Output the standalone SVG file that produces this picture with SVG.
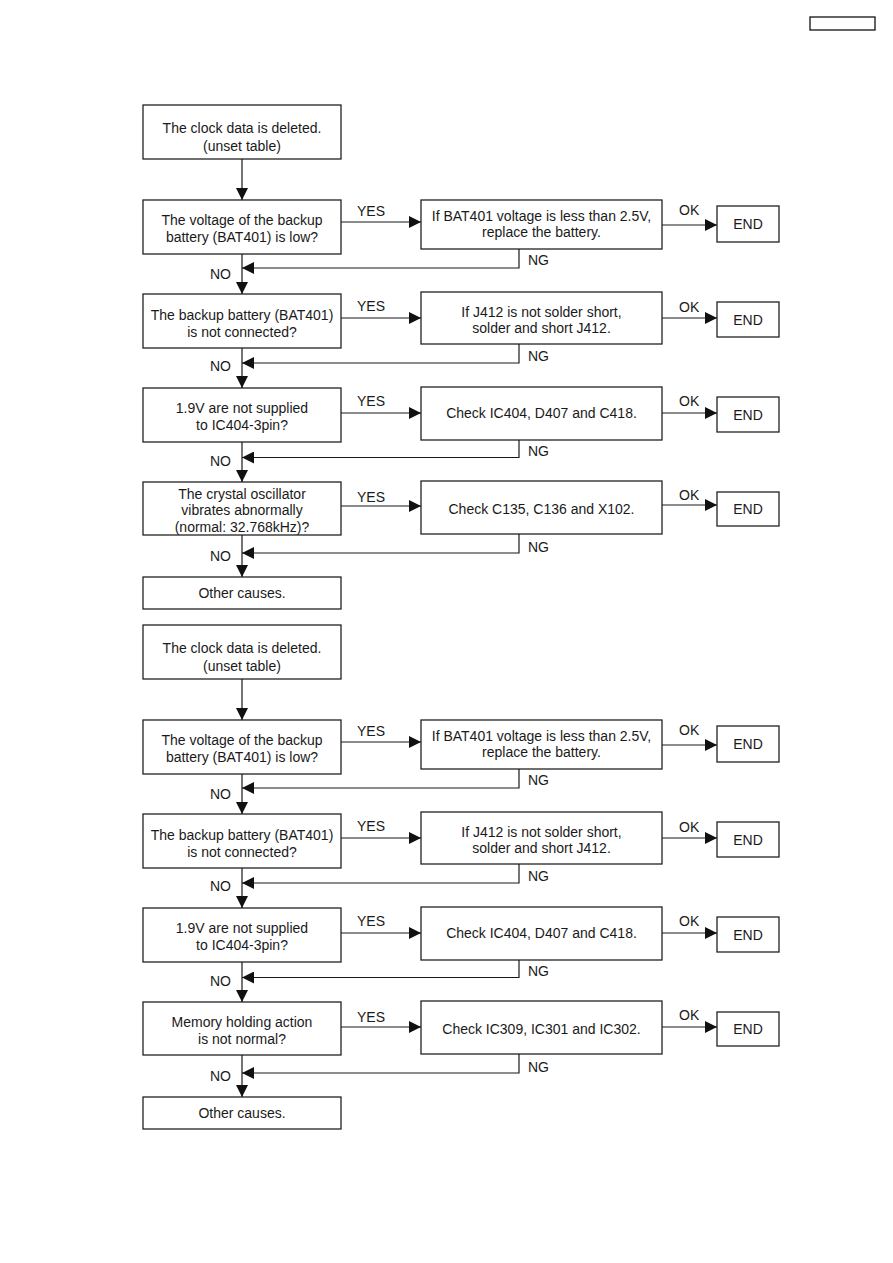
<svg xmlns="http://www.w3.org/2000/svg" width="893" height="1263" viewBox="0 0 893 1263">
<style>
.box{fill:#fff;stroke:#222;stroke-width:1.3}
.t{font-family:"Liberation Sans",Arial,Helvetica,sans-serif;font-size:14px;fill:#1a1a1a;text-anchor:middle}
.l{font-family:"Liberation Sans",Arial,Helvetica,sans-serif;font-size:14px;fill:#1a1a1a}
.ln{stroke:#1a1a1a;stroke-width:1.2;fill:none}
.ar{marker-end:url(#ah)}
</style>
<defs>
<marker id="ah" markerUnits="userSpaceOnUse" markerWidth="12" markerHeight="12" refX="12" refY="6" orient="auto">
<path d="M0,0 L12,6 L0,12 z" fill="#111"/>
</marker>
</defs>
<rect width="893" height="1263" fill="#fff"/>
<g id="pageref"><rect x="810" y="17" width="65" height="13" fill="#fff" stroke="#111" stroke-width="1.3"/></g>

<g id="flow1">
<g id="f1-start"><rect class="box" x="143" y="105" width="198" height="54"/><text class="t" x="242" y="133">The clock data is deleted.</text><text class="t" x="242" y="151">(unset table)</text></g>
<g id="f1-q1"><rect class="box" x="143" y="200" width="198" height="54"/><text class="t" x="242" y="225">The voltage of the backup</text><text class="t" x="242" y="242">battery (BAT401) is low?</text></g>
<g id="f1-a1"><rect class="box" x="421" y="200" width="241" height="49"/><text class="t" x="541.5" y="221">If BAT401 voltage is less than 2.5V,</text><text class="t" x="541.5" y="237">replace the battery.</text></g>
<g id="f1-end1"><rect class="box" x="717" y="206" width="62" height="36"/><text class="t" x="748" y="229">END</text></g>
<g id="f1-q2"><rect class="box" x="143" y="294" width="198" height="54"/><text class="t" x="242" y="320">The backup battery (BAT401)</text><text class="t" x="242" y="337">is not connected?</text></g>
<g id="f1-a2"><rect class="box" x="421" y="292" width="241" height="52"/><text class="t" x="541.5" y="317">If J412 is not solder short,</text><text class="t" x="541.5" y="333">solder and short J412.</text></g>
<g id="f1-end2"><rect class="box" x="717" y="302" width="62" height="35"/><text class="t" x="748" y="325">END</text></g>
<g id="f1-q3"><rect class="box" x="143" y="388" width="198" height="54"/><text class="t" x="242" y="413">1.9V are not supplied</text><text class="t" x="242" y="429.5">to IC404-3pin?</text></g>
<g id="f1-a3"><rect class="box" x="421" y="387" width="241" height="53"/><text class="t" x="541.5" y="418">Check IC404, D407 and C418.</text></g>
<g id="f1-end3"><rect class="box" x="717" y="397" width="62" height="35"/><text class="t" x="748" y="420">END</text></g>
<g id="f1-q4"><rect class="box" x="143" y="482" width="198" height="53"/><text class="t" x="242" y="498.5">The crystal oscillator</text><text class="t" x="242" y="515">vibrates abnormally</text><text class="t" x="242" y="531.5">(normal: 32.768kHz)?</text></g>
<g id="f1-a4"><rect class="box" x="421" y="481" width="241" height="53"/><text class="t" x="541.5" y="514">Check C135, C136 and X102.</text></g>
<g id="f1-end4"><rect class="box" x="717" y="492" width="62" height="34"/><text class="t" x="748" y="514">END</text></g>
<g id="f1-other"><rect class="box" x="143" y="577" width="198" height="32"/><text class="t" x="242" y="598">Other causes.</text></g>
<g id="f1-connectors">
<path class="ln ar" d="M242,159 V200"/>
<path class="ln ar" d="M242,254 V294"/>
<path class="ln ar" d="M242,348 V388"/>
<path class="ln ar" d="M242,442 V482"/>
<path class="ln ar" d="M242,535 V577"/>
<path class="ln ar" d="M341,222 H421"/>
<path class="ln ar" d="M341,318 H421"/>
<path class="ln ar" d="M341,413 H421"/>
<path class="ln ar" d="M341,506 H421"/>
<path class="ln ar" d="M662,225 H717"/>
<path class="ln ar" d="M662,318 H717"/>
<path class="ln ar" d="M662,413 H717"/>
<path class="ln ar" d="M662,505 H717"/>
<path class="ln ar" d="M519,249 V268 H242"/>
<path class="ln ar" d="M519,344 V363 H242"/>
<path class="ln ar" d="M519,440 V457.5 H242"/>
<path class="ln ar" d="M519,534 V553 H242"/>
<text class="l" x="357" y="216">YES</text><text class="l" x="357" y="311">YES</text><text class="l" x="357" y="406">YES</text><text class="l" x="357" y="502">YES</text>
<text class="l" x="210" y="279">NO</text><text class="l" x="210" y="371">NO</text><text class="l" x="210" y="466">NO</text><text class="l" x="210" y="561">NO</text>
<text class="l" x="679" y="215">OK</text><text class="l" x="679" y="312">OK</text><text class="l" x="679" y="406">OK</text><text class="l" x="679" y="500">OK</text>
<text class="l" x="528" y="265">NG</text><text class="l" x="528" y="361">NG</text><text class="l" x="528" y="456">NG</text><text class="l" x="528" y="552">NG</text>
</g>
</g>

<g id="flow2" transform="translate(0,520)">
<g id="f2-start"><rect class="box" x="143" y="105" width="198" height="54"/><text class="t" x="242" y="133">The clock data is deleted.</text><text class="t" x="242" y="151">(unset table)</text></g>
<g id="f2-q1"><rect class="box" x="143" y="200" width="198" height="54"/><text class="t" x="242" y="225">The voltage of the backup</text><text class="t" x="242" y="242">battery (BAT401) is low?</text></g>
<g id="f2-a1"><rect class="box" x="421" y="200" width="241" height="49"/><text class="t" x="541.5" y="221">If BAT401 voltage is less than 2.5V,</text><text class="t" x="541.5" y="237">replace the battery.</text></g>
<g id="f2-end1"><rect class="box" x="717" y="206" width="62" height="36"/><text class="t" x="748" y="229">END</text></g>
<g id="f2-q2"><rect class="box" x="143" y="294" width="198" height="54"/><text class="t" x="242" y="320">The backup battery (BAT401)</text><text class="t" x="242" y="337">is not connected?</text></g>
<g id="f2-a2"><rect class="box" x="421" y="292" width="241" height="52"/><text class="t" x="541.5" y="317">If J412 is not solder short,</text><text class="t" x="541.5" y="333">solder and short J412.</text></g>
<g id="f2-end2"><rect class="box" x="717" y="302" width="62" height="35"/><text class="t" x="748" y="325">END</text></g>
<g id="f2-q3"><rect class="box" x="143" y="388" width="198" height="54"/><text class="t" x="242" y="413">1.9V are not supplied</text><text class="t" x="242" y="429.5">to IC404-3pin?</text></g>
<g id="f2-a3"><rect class="box" x="421" y="387" width="241" height="53"/><text class="t" x="541.5" y="418">Check IC404, D407 and C418.</text></g>
<g id="f2-end3"><rect class="box" x="717" y="397" width="62" height="35"/><text class="t" x="748" y="420">END</text></g>
<g id="f2-q4"><rect class="box" x="143" y="482" width="198" height="53"/><text class="t" x="242" y="507">Memory holding action</text><text class="t" x="242" y="523.5">is not normal?</text></g>
<g id="f2-a4"><rect class="box" x="421" y="481" width="241" height="53"/><text class="t" x="541.5" y="513.5">Check IC309, IC301 and IC302.</text></g>
<g id="f2-end4"><rect class="box" x="717" y="492" width="62" height="34"/><text class="t" x="748" y="514">END</text></g>
<g id="f2-other"><rect class="box" x="143" y="577" width="198" height="32"/><text class="t" x="242" y="598">Other causes.</text></g>
<g id="f2-connectors">
<path class="ln ar" d="M242,159 V200"/>
<path class="ln ar" d="M242,254 V294"/>
<path class="ln ar" d="M242,348 V388"/>
<path class="ln ar" d="M242,442 V482"/>
<path class="ln ar" d="M242,535 V577"/>
<path class="ln ar" d="M341,222 H421"/>
<path class="ln ar" d="M341,318 H421"/>
<path class="ln ar" d="M341,413 H421"/>
<path class="ln ar" d="M341,507 H421"/>
<path class="ln ar" d="M662,225 H717"/>
<path class="ln ar" d="M662,318 H717"/>
<path class="ln ar" d="M662,413 H717"/>
<path class="ln ar" d="M662,507 H717"/>
<path class="ln ar" d="M519,249 V268 H242"/>
<path class="ln ar" d="M519,344 V363 H242"/>
<path class="ln ar" d="M519,440 V457.5 H242"/>
<path class="ln ar" d="M519,534 V553 H242"/>
<text class="l" x="357" y="216">YES</text><text class="l" x="357" y="311">YES</text><text class="l" x="357" y="406">YES</text><text class="l" x="357" y="502">YES</text>
<text class="l" x="210" y="279">NO</text><text class="l" x="210" y="371">NO</text><text class="l" x="210" y="466">NO</text><text class="l" x="210" y="561">NO</text>
<text class="l" x="679" y="215">OK</text><text class="l" x="679" y="312">OK</text><text class="l" x="679" y="406">OK</text><text class="l" x="679" y="500">OK</text>
<text class="l" x="528" y="265">NG</text><text class="l" x="528" y="361">NG</text><text class="l" x="528" y="456">NG</text><text class="l" x="528" y="552">NG</text>
</g>
</g>
</svg>
